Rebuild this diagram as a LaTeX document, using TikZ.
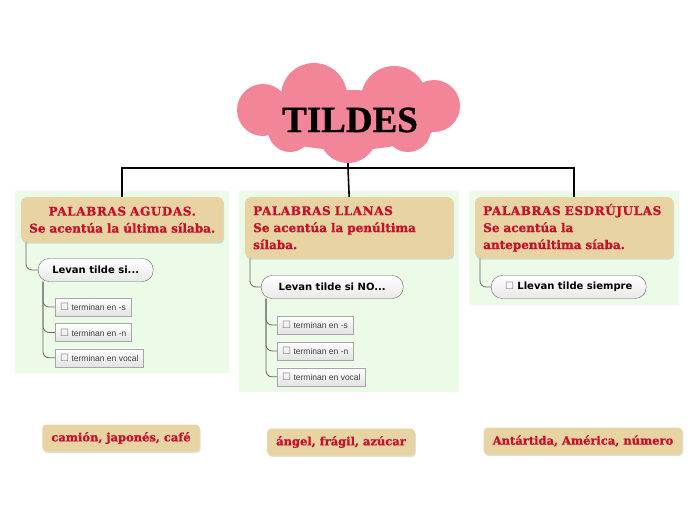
\documentclass[tikz,border=0pt]{standalone}
\usepackage{fontspec}
\setmainfont{DejaVu Serif}
\newfontfamily\headfont[FakeBold=1.2]{DejaVu Serif Bold}
\newfontfamily\titlefont[FakeBold=0.8]{Liberation Serif Bold}
\newfontfamily\labelfont{Liberation Sans}
\newfontfamily\symfont{DejaVu Sans}
\usepackage{tikz}
\usetikzlibrary{positioning, fit, backgrounds, shadows}
\definecolor{tildered}{RGB}{200,16,46}
\definecolor{tanfill}{RGB}{232,212,163}
\definecolor{cloudpink}{RGB}{242,134,152}
\definecolor{panelgreen}{RGB}{236,250,232}
\definecolor{linkgray}{RGB}{105,105,105}
\newcommand{\chk}{{\color{gray}\symfont\mdseries\fontsize{10}{10}\selectfont ☐}}
\newcommand{\capsline}[1]{{\addfontfeature{LetterSpace=5}#1}}
\tikzset{
  headbox/.style={rectangle, fill=tanfill, rounded corners=5pt,
    inner xsep=8pt, font=\headfont\fontsize{12}{17}\selectfont,
    text=tildered, anchor=north west,
    drop shadow={opacity=0.25, shadow xshift=1pt, shadow yshift=-1.5pt}},
  example/.style={rectangle, fill=tanfill, rounded corners=4pt,
    inner xsep=9pt, minimum height=27pt,
    font=\headfont\fontsize{11.5}{14}\selectfont, text=tildered,
    drop shadow={opacity=0.25, shadow xshift=1pt, shadow yshift=-1.5pt}},
  pill/.style={rectangle, draw=gray!80!black, rounded corners=11pt,
    top color=white, bottom color=gray!18, minimum height=23pt,
    font=\symfont\bfseries\fontsize{10}{12}\selectfont, anchor=west},
  leaf/.style={rectangle, draw=gray!70, top color=white, bottom color=gray!22,
    minimum height=18pt, inner xsep=5pt, text=black!75,
    font=\labelfont\fontsize{8.5}{10}\selectfont},
  panel/.style={rectangle, fill=panelgreen, inner sep=6pt},
  link/.style={draw=linkgray, line width=0.8pt, rounded corners=6pt},
  trunk/.style={draw=black, line width=1.6pt}
}
\begin{document}
\begin{tikzpicture}[x=1pt, y=-1pt]
  \useasboundingbox (0,0) rectangle (696,520);
  % title cloud
  \begin{scope}[fill=cloudpink]
    \fill (348,120) ellipse (92 and 30);
    \fill (314,96) circle (33);
    \fill (394,99) circle (33);
    \fill (263,110) circle (26);
    \fill (434,106) circle (26);
    \fill (348,134) circle (29);
    \fill (290,130) circle (22);
    \fill (408,129) circle (23);
  \end{scope}
  \coordinate (cloudbase) at (348,163);
  \node (tildes) at (350,120)
    {\titlefont\fontsize{37}{40}\selectfont TILDES};
  % the three kinds of words
  \node[headbox, text width=186pt, align=center, minimum height=45pt] (h1) at (21,197)
    {\capsline{PALABRAS AGUDAS.}\\Se acentúa la última sílaba.};
  \node[headbox, text width=192pt, align=left, minimum height=61pt] (h2) at (245,197)
    {\capsline{PALABRAS LLANAS}\\Se acentúa la penúltima\\sílaba.};
  \node[headbox, text width=182pt, align=left, minimum height=61pt] (h3) at (475,197)
    {\capsline{PALABRAS ESDRÚJULAS}\\Se acentúa la\\antepenúltima síaba.};
  \node[pill, minimum width=115pt] (q1) at (38,270) {Levan tilde si...};
  \node[pill, minimum width=142pt] (q2) at (261,287) {Levan tilde si NO...};
  \node[pill, minimum width=155pt] (q3) at (491,287) {\chk\ Llevan tilde siempre};
  \node[leaf, anchor=west] (a1) at (55,307) {\chk\ terminan en -s};
  \node[leaf, below=7pt of a1.south west, anchor=north west] (a2) {\chk\ terminan en -n};
  \node[leaf, below=7pt of a2.south west, anchor=north west] (a3) {\chk\ terminan en vocal};
  \node[leaf, anchor=west] (b1) at (277,325) {\chk\ terminan en -s};
  \node[leaf, below=7.5pt of b1.south west, anchor=north west] (b2) {\chk\ terminan en -n};
  \node[leaf, below=7.5pt of b2.south west, anchor=north west] (b3) {\chk\ terminan en vocal};
  % examples
  \node[example] (e1) at (121,438) {camión, japonés, café};
  \node[example] (e2) at (341,442) {ángel, frágil, azúcar};
  \node[example] (e3) at (583,441) {Antártida, América, número};
  % panels
  \begin{scope}[on background layer]
    \node[panel, fit=(h1)(a3)] (p1) {};
    \node[panel, fit=(h2)(b3)] (p2) {};
    \node[panel, fit=(h3)(q3)] (p3) {};
  \end{scope}
  % connectors
  \coordinate (hub) at (348,168);
  \draw[trunk] (cloudbase) -- (hub);
  \draw[trunk] (h1.north) |- (hub) -| (h3.north);
  \draw[trunk] (hub) -- (h2.north);
  \draw[link] ([xshift=5pt]h1.south west) |- (q1.west);
  \draw[link] ([xshift=5pt]h2.south west) |- (q2.west);
  \draw[link] ([xshift=5pt]h3.south west) |- (q3.west);
  \draw[link] ([xshift=5pt]q1.south west) |- (a1.west);
  \draw[link] ([xshift=5pt]q1.south west) |- (a2.west);
  \draw[link] ([xshift=5pt]q1.south west) |- (a3.west);
  \draw[link] ([xshift=5pt]q2.south west) |- (b1.west);
  \draw[link] ([xshift=5pt]q2.south west) |- (b2.west);
  \draw[link] ([xshift=5pt]q2.south west) |- (b3.west);
\end{tikzpicture}
\end{document}
